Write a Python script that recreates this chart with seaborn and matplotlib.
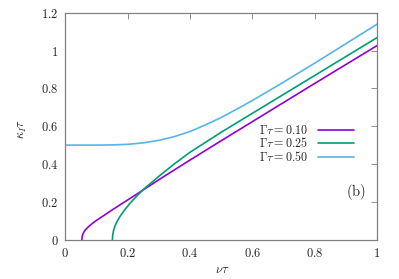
import pandas as pd
import seaborn as sns
import matplotlib.pyplot as plt
from matplotlib.ticker import FixedLocator, FuncFormatter

# valeurs (nu*tau, kappa_I*tau)
nu_010 = [0.053, 0.054, 0.056, 0.06, 0.065, 0.07, 0.08, 0.09, 0.10, 0.12, 0.15,
          0.2, 0.25, 0.3, 0.4, 0.5, 0.6, 0.7, 0.8, 0.9, 1.0]
kappa_010 = [0.0, 0.015, 0.028, 0.042, 0.053, 0.062, 0.077, 0.09, 0.102, 0.124, 0.157,
             0.21, 0.263, 0.317, 0.421, 0.523, 0.624, 0.725, 0.826, 0.926, 1.026]

nu_025 = [0.151, 0.152, 0.155, 0.16, 0.165, 0.175, 0.19, 0.21, 0.23, 0.25, 0.3,
          0.35, 0.4, 0.5, 0.6, 0.7, 0.8, 0.9, 1.0]
kappa_025 = [0.0, 0.025, 0.05, 0.075, 0.093, 0.122, 0.157, 0.197, 0.232, 0.265, 0.335,
             0.401, 0.462, 0.568, 0.668, 0.768, 0.868, 0.968, 1.068]

nu_050 = [0.0, 0.05, 0.1, 0.15, 0.2, 0.25, 0.3, 0.35, 0.4, 0.45, 0.5, 0.55, 0.6,
          0.65, 0.7, 0.8, 0.9, 1.0]
kappa_050 = [0.5, 0.5, 0.5, 0.501, 0.504, 0.512, 0.525, 0.545, 0.572, 0.607, 0.646,
             0.69, 0.736, 0.784, 0.833, 0.933, 1.036, 1.139]

labels = [r"$\Gamma\tau = 0.10$", r"$\Gamma\tau = 0.25$", r"$\Gamma\tau = 0.50$"]
colors = ["#9400d3", "#009e73", "#56b4e9"]
xticks = [0, 0.2, 0.4, 0.6, 0.8, 1]
yticks = [0, 0.2, 0.4, 0.6, 0.8, 1, 1.2]

sns.set_style("white")
plt.rcParams["mathtext.fontset"] = "cm"
plt.rcParams["font.family"] = ["DejaVu Serif"]

fig = plt.figure(figsize=(3.99, 2.79), dpi=100)
ax = fig.add_axes([0.1637, 0.1409, 0.7812, 0.8136])

series = [(nu_010, kappa_010), (nu_025, kappa_025), (nu_050, kappa_050)]
for (x, y), lab, col in zip(series, labels, colors):
    sns.lineplot(x=x, y=y, ax=ax, color=col, label=lab, linewidth=1.2, sort=False)

ax.set_xlim(0, 1)
ax.set_ylim(0, 1.2)
ax.xaxis.set_major_locator(FixedLocator(xticks))
ax.yaxis.set_major_locator(FixedLocator(yticks))
fmt = FuncFormatter(lambda v, p: "$%g$" % round(v, 2))
ax.xaxis.set_major_formatter(fmt)
ax.yaxis.set_major_formatter(fmt)
ax.tick_params(direction="in", length=4, width=0.6, color="#808080",
               top=True, right=True, labelsize=9, pad=5)
for s in ax.spines.values():
    s.set_color("#808080")
    s.set_linewidth(0.9)

ax.set_xlabel(r"$\nu\tau$", fontsize=9)
ax.set_ylabel(r"$\kappa_I\tau$", fontsize=9)
ax.xaxis.set_label_coords(0.503, -0.102)
ax.yaxis.set_label_coords(-0.115, 0.49)

ax.legend(loc="center right", bbox_to_anchor=(0.926, 0.4216), frameon=False,
          markerfirst=False, fontsize=8.7, handlelength=3.0, handletextpad=0.75,
          labelspacing=-0.02, borderpad=0, borderaxespad=0)
ax.text(0.932, 0.209, r"$(\mathrm{b})$", transform=ax.transAxes, fontsize=10.5,
        ha="center", va="center")

plt.savefig("out.png", dpi=100)
